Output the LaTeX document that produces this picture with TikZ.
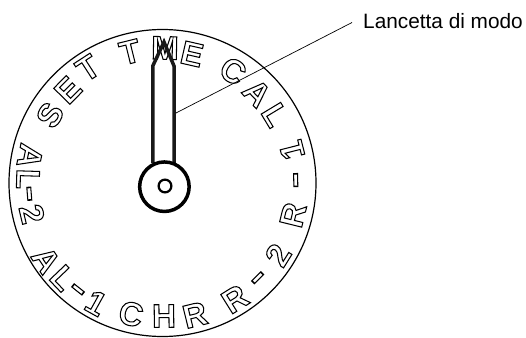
\documentclass[tikz,border=0pt]{standalone}
\usepackage{fontspec}
\setmainfont{Liberation Sans}
\newcommand{\olt}[1]{\special{pdf:code q 1 Tr 1.05 w}#1\special{pdf:code Q}}
\tikzset{
 letter/.style={inner sep=0pt,font=\fontsize{33}{33}\bfseries\selectfont},
 hand/.style={draw=black!90,line width=3.5pt,line join=miter},
}
% #1 name, #2 letter, #3 x, #4 y, #5 0=top out, 1=top in
\newcommand{\dl}[5]{%
 \pgfmathsetmacro{\th}{atan2(#3-162.5,183-#4)}%
 \pgfmathsetmacro{\rr}{#5==0 ? -\th : 180-\th}%
 \node[letter,rotate=\rr] (#1) at (#3,#4) {\olt{#2}};}
\newcommand{\dash}{\scalebox{1.5}[1]{-}}
\begin{document}
\begin{tikzpicture}[x=1pt,y=-1pt]
\useasboundingbox (0,0) rectangle (526,337);
\node[draw,circle,minimum size=307pt,inner sep=0pt,line width=1.2pt] (dial) at (162.5,183) {};
\dl{s1}{S}{50}{115}{0}
\dl{e1}{E}{68}{90}{0}
\dl{t1}{T}{88}{68}{0}
\dl{t2}{T}{130}{52}{0}
\dl{m1}{M}{165}{48}{0}
\dl{e2}{E}{192}{54}{0}
\dl{c1}{C}{233}{71}{0}
\dl{a1}{A}{257}{93}{0}
\dl{l1}{L}{275}{115}{0}
\dl{o1}{1}{292}{150}{1}
\dl{d1}{\dash}{299}{180}{1}
\dl{r1}{R}{293}{215}{1}
\dl{o2}{2}{278}{255}{1}
\dl{d2}{\dash}{260}{280}{1}
\dl{r2}{R}{235}{299}{1}
\dl{r3}{R}{195}{315}{1}
\dl{h1}{H}{164}{316}{1}
\dl{c2}{C}{131}{314}{1}
\dl{o3}{1}{96}{303}{1}
\dl{d3}{\dash}{76}{292}{1}
\dl{l2}{L}{63}{278}{1}
\dl{a2}{A}{46}{260}{1}
\dl{o4}{2}{32}{214}{1}
\dl{d4}{\dash}{26}{194}{1}
\dl{l3}{L}{28}{179}{1}
\dl{a3}{A}{30}{156}{1}
\draw[hand] (152.75,163) -- (152.75,66) -- (164,42) -- (174,66) -- (174,163);
\node[draw,circle,minimum size=49.5pt,inner sep=0pt,line width=3.5pt] (hub) at (164.4,186.7) {};
\node[draw,circle,minimum size=12.8pt,inner sep=0pt,line width=2.2pt] (pin) at (165,186) {};
\node[anchor=west,inner sep=0pt,font=\fontsize{20.8}{21}\selectfont] (lab) at (363,21) {Lancetta di modo};
\coordinate (tip) at (176,113);
\coordinate (e) at (352,22.5);
\draw[line width=0.7pt] (tip) -- (e);
\end{tikzpicture}
\end{document}
